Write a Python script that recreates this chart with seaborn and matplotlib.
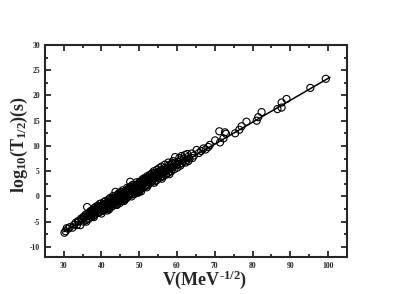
import numpy as np
import pandas as pd
import matplotlib
matplotlib.use("Agg")
import matplotlib.pyplot as plt
import seaborn as sns
from matplotlib.ticker import MultipleLocator

# Coulomb parameter V and log10 half-life
V = [30.2, 30.5, 30.8, 31.2, 31.6, 32.3, 32.8, 33.5, 34.0, 34.4, 34.8, 35.2, 35.5, 35.9,
     36.2, 36.4, 36.7, 37.0, 37.2, 37.5, 37.8, 38.0, 38.2, 38.5, 38.7, 39.0, 39.2, 39.4,
     39.6, 39.8, 40.0, 40.2, 40.4, 40.6, 40.8, 41.0, 41.2, 41.4, 41.6, 41.8, 42.0, 42.2,
     42.4, 42.6, 42.8, 43.0, 43.2, 43.4, 43.7, 43.8, 44.0, 44.1, 44.3, 44.5, 44.7, 44.9,
     45.1, 45.3, 45.5, 45.7, 45.9, 46.1, 46.3, 46.5, 46.7, 46.9, 47.1, 47.3, 47.6, 47.8,
     48.0, 48.2, 48.4, 48.6, 48.8, 49.0, 49.2, 49.4, 49.6, 49.8, 50.0, 50.2, 50.4, 50.6,
     50.8, 51.0, 51.2, 51.4, 51.6, 51.8, 52.0, 52.2, 52.5, 52.8, 53.0, 53.2, 53.5, 53.8,
     54.0, 54.3, 54.6, 54.9, 55.2, 55.5, 55.8, 56.1, 56.4, 56.7, 57.0, 57.3, 57.6, 57.9,
     58.2, 58.5, 58.8, 59.1, 59.5, 59.8, 60.1, 60.4, 60.7, 61.0, 61.4, 61.8, 62.1, 62.5,
     62.9, 63.3, 63.9, 64.5, 65.2, 65.8, 66.4, 67.0, 67.6, 68.3, 68.7, 70.1, 71.2, 71.4,
     72.3, 72.7, 73.0, 75.4, 76.5, 77.1, 78.4, 81.1, 81.5, 82.4, 86.6, 87.7, 87.7, 89.0,
     95.3, 99.4,
     35.0, 35.7, 36.0, 36.9, 37.4, 37.9, 38.3, 38.9, 39.3, 39.7, 40.1, 40.5, 40.9, 41.3,
     41.7, 42.1, 42.5, 42.9, 43.3, 43.6, 44.2, 44.6, 45.0, 45.4, 45.8, 46.2, 46.6, 47.0,
     47.4, 47.9, 48.3, 48.7, 49.1, 49.5, 49.9, 50.3, 50.7, 51.1, 51.5, 51.9, 52.3, 52.7,
     53.1, 53.6, 54.1, 54.5, 55.0, 55.4, 56.0, 56.5, 57.1, 57.5, 58.0, 58.6, 59.3, 60.0,
     60.9, 61.6, 62.3, 63.0, 64.1, 40.3, 41.5, 42.7, 44.8, 46.4, 48.5, 50.5, 52.4, 54.2,
     56.2, 58.4, 39.5, 43.9, 47.7, 51.3,
     33.2, 33.8, 34.6, 35.3, 35.8, 36.6, 37.1, 37.6, 38.1, 38.6, 39.1, 39.9, 40.7, 41.1,
     41.9, 42.3, 43.1, 43.5, 44.4, 45.2, 45.6, 46.0, 46.8, 47.2, 48.1, 48.9, 49.3, 50.1,
     50.9, 51.7, 52.1, 52.9, 53.4, 53.9, 54.7, 55.3, 55.9, 56.8, 57.7, 58.9, 60.6, 61.2,
     62.7, 36.0, 38.0, 40.0, 42.0, 44.0, 46.0, 48.0, 50.0, 52.0, 54.0, 56.0, 58.0, 37.3,
     39.4, 41.6, 43.2, 45.3, 47.5, 49.7, 51.6, 53.7, 55.7, 57.3, 59.6]
logT = [-7.2, -6.9, -6.3, -6.4, -6.1, -6.2, -5.6, -5.7, -5.0, -5.7, -4.6, -5.0, -4.2, -4.7,
        -2.1, -3.8, -4.4, -3.5, -4.1, -3.2, -3.9, -2.9, -3.6, -3.0, -2.4, -3.3, -2.6, -2.0,
        -3.0, -2.3, -1.8, -2.9, -2.2, -1.5, -2.6, -1.9, -2.5, -1.3, -2.0, -1.6, -2.3, -1.0,
        -1.8, -1.2, -2.0, -0.8, -1.5, -0.6, 0.9, -1.2, -0.4, -1.7, -0.9, 0.1, -0.6, -1.3,
        0.3, -0.2, -0.9, 0.6, 0.0, -0.6, 1.0, 0.3, -0.3, 0.8, 1.5, 0.2, 2.9, 0.7,
        1.3, 0.4, 1.8, 1.0, 0.5, 1.6, 2.3, 1.1, 0.7, 1.9, 2.6, 1.4, 2.1, 3.0,
        1.6, 2.4, 3.3, 1.9, 2.8, 2.2, 3.5, 2.5, 3.0, 4.2, 2.7, 3.6, 3.2, 4.6,
        3.5, 4.0, 3.2, 4.8, 4.1, 3.7, 5.2, 4.5, 4.0, 5.6, 4.9, 5.3, 4.6, 6.2,
        5.5, 5.0, 6.6, 5.9, 7.8, 6.2, 5.7, 6.9, 6.4, 7.3, 6.6, 7.5, 8.2, 7.2,
        7.8, 7.5, 8.5, 8.1, 9.2, 8.6, 9.0, 9.5, 9.3, 9.8, 10.2, 11.1, 12.9, 10.7,
        11.5, 12.7, 12.4, 12.5, 13.2, 13.9, 14.8, 15.0, 15.7, 16.7, 17.3, 17.6, 18.6, 19.3,
        21.5, 23.3,
        -4.5, -4.0, -4.6, -3.7, -3.7, -3.3, -2.8, -2.8, -3.2, -2.6, -2.4, -2.8, -2.1, -1.8,
        -2.4, -1.5, -2.1, -1.4, -1.0, -1.6, -0.7, -1.0, -0.5, 0.4, -0.4, 0.2, 0.8, 0.1,
        1.0, 0.4, 1.1, 1.5, 0.9, 1.7, 1.2, 2.4, 1.9, 2.7, 2.1, 2.9, 2.2, 3.3,
        2.9, 3.8, 3.0, 4.2, 3.6, 4.5, 3.9, 4.8, 4.3, 5.4, 4.9, 5.8, 5.4, 6.4,
        6.1, 7.0, 6.7, 7.0, 7.6, -1.9, -2.8, -0.5, 0.7, -0.5, 2.3, 1.0, 3.7, 4.5,
        5.1, 6.3, -1.5, -0.1, 1.9, 3.6,
        -5.2, -4.9, -4.4, -4.0, -3.6, -3.3, -2.9, -2.7, -2.3, -2.0, -1.9, -1.4, -1.1, -0.9,
        -0.6, -0.3, 0.1, -0.2, 0.5, 0.9, 1.2, 0.7, 1.7, 1.4, 2.2, 2.0, 2.8, 2.9,
        3.4, 3.5, 4.0, 4.3, 4.6, 5.0, 5.3, 5.6, 5.9, 6.3, 6.7, 7.0, 7.6, 8.0,
        8.4, -5.0, -4.1, -3.4, -2.6, -1.6, -0.9, 0.0, 0.9, 1.8, 2.7, 3.5, 4.4, -3.0,
        -2.2, -1.2, -0.5, 0.3, 1.3, 2.2, 3.0, 4.0, 4.9, 5.6, 6.7]

# fitted straight line end points
fit_V = [30.0, 100.5]
fit_logT = [-7.0, 23.6]

data = pd.DataFrame({"V": V, "logT": logT})
fit = pd.DataFrame({"V": fit_V, "logT": fit_logT})

sns.set_style("ticks")
plt.rcParams["font.family"] = ["Liberation Serif", "DejaVu Serif"]
plt.rcParams["axes.unicode_minus"] = False
plt.rcParams["mathtext.fontset"] = "custom"
plt.rcParams["mathtext.rm"] = "Liberation Serif:bold"
plt.rcParams["mathtext.bf"] = "Liberation Serif:bold"
plt.rcParams["mathtext.it"] = "Liberation Serif:bold"

fig = plt.figure(figsize=(4.15, 2.94), dpi=100)
ax = fig.add_axes([0.108, 0.126, 0.728, 0.721])

sns.lineplot(data=fit, x="V", y="logT", ax=ax, color="black", linewidth=1.1)
sns.scatterplot(data=data, x="V", y="logT", ax=ax, s=26, facecolor="none",
                edgecolor="black", linewidth=0.8, zorder=3)

ax.set_xlim(25, 105)
ax.set_ylim(-12, 30)
ax.xaxis.set_major_locator(MultipleLocator(10))
ax.xaxis.set_minor_locator(MultipleLocator(5))
ax.yaxis.set_major_locator(MultipleLocator(5))
ax.yaxis.set_minor_locator(MultipleLocator(2.5))
ax.tick_params(which="both", direction="in", top=True, right=True, width=1.3)
ax.tick_params(which="major", length=4, labelsize=5.5)
ax.tick_params(which="minor", length=2.5)
for lab in ax.get_xticklabels() + ax.get_yticklabels():
    lab.set_fontweight("bold")
for sp in ax.spines.values():
    sp.set_linewidth(1.5)

ax.set_xlabel(r"V(MeV$^{\text{-}1/2}$)", fontsize=13, fontweight="bold")
ax.set_ylabel(r"log$_{10}$(T$_{1/2}$)(s)", fontsize=13, fontweight="bold")
ax.xaxis.set_label_coords(0.53, -0.055)
ax.yaxis.set_label_coords(-0.048, 0.53)

fig.savefig("out.png", dpi=100)
